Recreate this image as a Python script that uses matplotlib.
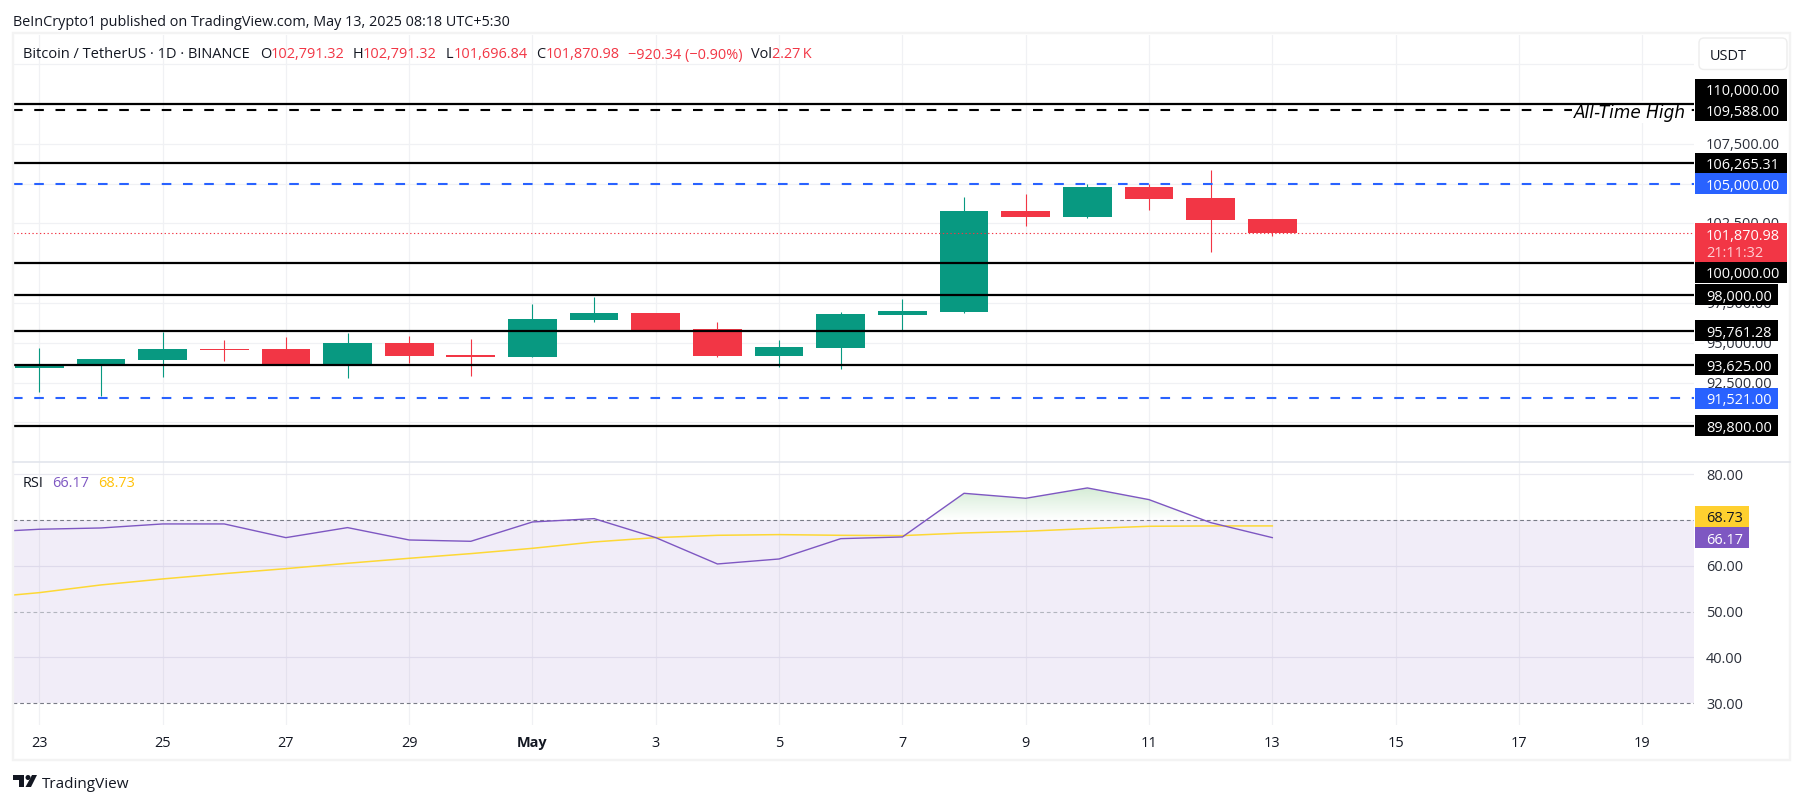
import matplotlib
matplotlib.use('Agg')
import matplotlib.pyplot as plt
import numpy as np
from matplotlib.patches import Circle, FancyBboxPatch, Polygon, Rectangle
from matplotlib.path import Path
from matplotlib.transforms import ScaledTranslation

plt.rcParams['font.family'] = ['Open Sans', 'DejaVu Sans']

WIDTH, HEIGHT = 1804, 804
UP = '#089981'
DOWN = '#F23645'
BLUE = '#2962FF'
PURPLE = '#7E57C2'
YELLOW = '#FDD835'
INK = '#131722'
GRID = '#F0F1F4'
NUM_SIZE = 10.45

# Apr 23 .. May 13, daily candles
opens = [93400, 93690, 93918, 94610, 94610, 93680, 94984, 94240, 94110, 96426, 96865,
         95862, 94169, 94671, 96740, 96928, 103260, 102884, 104765, 104075, 102791.32]
highs = [94671, 93990, 95693, 95172, 95361, 95611, 95423, 95235, 97429, 97868, 96900,
         96301, 95172, 96930, 97743, 104138, 104326, 104953, 104953, 105831, 102791.32]
lows = [91912, 91661, 92853, 93856, 93650, 92790, 93730, 92915, 94080, 96301, 95780,
        94100, 93480, 93354, 95800, 96870, 102320, 102820, 103323, 100690, 101696.84]
closes = [93690, 93981, 94608, 94550, 93680, 94984, 94169, 94110, 96489, 96865, 95799,
          94169, 94734, 96803, 96991, 103260, 102884, 104765, 104013, 102696, 101870.98]

# RSI starts one day earlier so that it runs off the left edge
rsi_values = [67.3, 68.0, 68.28, 69.16, 69.16, 66.17, 68.36, 65.66, 65.37, 69.59, 70.32,
              66.17, 60.42, 61.51, 65.95, 66.32, 75.85, 74.76, 77.02, 74.47, 69.45, 66.17]
rsi_ma = [52.93, 54.16, 55.84, 57.15, 58.31, 59.40, 60.57, 61.66, 62.68, 63.84, 65.23,
          66.17, 66.68, 66.83, 66.68, 66.61, 67.19, 67.56, 68.14, 68.65, 68.72, 68.73]

black_levels = [110000, 106265.31, 100000, 98000, 95761.28, 93625, 89800]
blue_levels = [105000, 91521]
ath_level = 109588
last_price = 101870.98

price_ticks = [112500, 110000, 107500, 105000, 102500, 100000, 97500, 95000, 92500, 90000, 87500]
rsi_ticks = [80, 60, 40]
rsi_labels = [80, 70, 60, 50, 40, 30]
date_ticks = [0, 2, 4, 6, 8, 10, 12, 14, 16, 18, 20, 22, 24, 26]
date_labels = ['23', '25', '27', '29', 'May', '3', '5', '7', '9', '11', '13', '15', '17', '19']


def axes_px(left, top, right, bottom):
    return fig.add_axes([left / WIDTH, 1 - bottom / HEIGHT, (right - left) / WIDTH, (bottom - top) / HEIGHT])


def style_pane(ax):
    for spine in ax.spines.values():
        spine.set_visible(False)
    ax.set_facecolor('none')
    ax.yaxis.tick_right()
    ax.tick_params(length=0, labelsize=NUM_SIZE, labelcolor='#2A2E39', pad=8.6)
    for d in date_ticks:
        ax.axvline(d, color=GRID, lw=0.9, zorder=0)


fig = plt.figure(figsize=(WIDTH / 100, HEIGHT / 100), dpi=100, facecolor='white')

# price pane
ax = axes_px(13, 35.5, 1694, 463.2)
style_pane(ax)
ax.set_xlim(-0.426, 26.84)
ax.set_ylim(87542, 114357)
ax.set_xticks([])
ax.set_yticks(price_ticks)
ax.set_yticklabels(['' if p in (112500, 87500) else f'{p:,.2f}' for p in price_ticks])
for p in price_ticks:
    ax.axhline(p, color=GRID, lw=0.9, zorder=0)
for label in ax.get_yticklabels():
    label.set_transform(label.get_transform() + ScaledTranslation(0, 1.5 / 100, fig.dpi_scale_trans))

days = np.arange(len(opens))
o, h, l, c = map(np.array, (opens, highs, lows, closes))
colors = [UP if b >= a else DOWN for a, b in zip(o, c)]
ax.vlines(days, l, h, colors=colors, lw=0.8, zorder=2)
ax.bar(days, np.abs(c - o), bottom=np.minimum(o, c), width=0.79, color=colors, zorder=3)

ax.axhline(last_price, color=DOWN, lw=0.8, ls=(0, (1.2, 2.2)), zorder=4)
ax.axhline(ath_level, color='black', lw=1.5, ls=(0, (4.6, 5.6)), zorder=4)
# the label masks the dashes but the solid 110,000 line runs over it
ax.text((1687 - 39.3) / 61.68, ath_level, 'All-Time High', style='italic', family='DejaVu Sans',
        fontsize=12.2, color='black', ha='right', va='center_baseline', zorder=4.5,
        bbox=dict(facecolor='white', edgecolor='none', pad=1.5))
for level in black_levels:
    ax.axhline(level, color='black', lw=1.6, zorder=5)
for level in blue_levels:
    ax.axhline(level, color=BLUE, lw=1.5, ls=(0, (4.6, 5.6)), zorder=5)

# RSI pane
ax_rsi = axes_px(13, 462.7, 1694, 726)
style_pane(ax_rsi)
ax_rsi.set_xlim(-0.426, 26.84)
ax_rsi.set_ylim(25.26, 82.75)
ax_rsi.set_yticks(rsi_labels)
ax_rsi.set_yticklabels([f'{v:.2f}' for v in rsi_labels])
ax_rsi.set_xticks(date_ticks)
ax_rsi.set_xticklabels(date_labels)
ax_rsi.tick_params(axis='x', labelcolor=INK, labelsize=NUM_SIZE, pad=7)
ax_rsi.get_xticklabels()[4].set_fontweight('bold')
for label in ax_rsi.get_yticklabels():
    label.set_transform(label.get_transform() + ScaledTranslation(0, 1.0 / 100, fig.dpi_scale_trans))
for v in rsi_ticks:
    ax_rsi.axhline(v, color='#E9E9F0', lw=0.9, zorder=0)
ax_rsi.axhspan(30, 70, color=PURPLE, alpha=0.1, lw=0, zorder=1)
for v, col in ((70, '#787B86'), (50, '#B2B5BE'), (30, '#787B86')):
    ax_rsi.axhline(v, color=col, lw=0.8, ls=(0, (3.4, 2.6)), zorder=2)

rsi_days = np.arange(-1, len(rsi_values) - 1)
rsi_arr = np.array(rsi_values)
# green glow above the 70 line, fading out downward
overbought = ax_rsi.fill_between(rsi_days, rsi_arr, 70, where=rsi_arr > 70, interpolate=True,
                                 color='none', lw=0, zorder=2)
glow = np.zeros((64, 2, 4))
glow[..., :3] = matplotlib.colors.to_rgb('#4CAF50')
glow[..., 3] = np.linspace(0.24, 0, 64)[:, None]
im = ax_rsi.imshow(glow, extent=(-0.426, 26.84, 70, rsi_arr.max()), aspect='auto', zorder=2,
                   interpolation='bilinear', origin='upper')
im.set_clip_path(Path.make_compound_path(*overbought.get_paths()), transform=ax_rsi.transData)
ax_rsi.set_xlim(-0.426, 26.84)
ax_rsi.set_ylim(25.26, 82.75)
ax_rsi.plot(rsi_days, rsi_ma, color=YELLOW, lw=1.1, zorder=3)
ax_rsi.plot(rsi_days, rsi_values, color=PURPLE, lw=1.0, zorder=4)

# everything around the panes lives in a pixel-coordinate overlay
ov = fig.add_axes([0, 0, 1, 1], zorder=10)
ov.set_xlim(0, WIDTH)
ov.set_ylim(HEIGHT, 0)
ov.axis('off')


def px_y(axis, value):
    return HEIGHT - axis.transData.transform((0, value))[1]


def tag(center, text, bg, fg, width, height=21):
    ov.add_patch(Rectangle((1695, center - height / 2), width, height, facecolor=bg, edgecolor='none'))
    ov.text(1706, center - 0.5, text, color=fg, fontsize=NUM_SIZE, va='center_baseline', ha='left')


def txt(x, y, s, color=INK, size=NUM_SIZE, **kw):
    ov.text(x, y, s, color=color, fontsize=size, va='center_baseline', ha='left', **kw)


ov.add_patch(Rectangle((12.5, 34), 1777.5, 727, fill=False, edgecolor='#F3F3F3', lw=1.7))
ov.plot([13, 1790], [462.7, 462.7], color='#E0E3EB', lw=1.1)

tag(px_y(ax, 110000) - 14.5, '110,000.00', 'black', 'white', 92)
tag(px_y(ax, 109588), '109,588.00', 'black', 'white', 92)
tag(px_y(ax, 106265.31), '106,265.31', 'black', 'white', 92)
tag(px_y(ax, 105000), '105,000.00', BLUE, 'white', 92)
tag(px_y(ax, 100000) + 9, '100,000.00', 'black', 'white', 92)
last_y = px_y(ax, last_price)
ov.add_patch(Rectangle((1695, last_y - 10.5), 92, 39.5, facecolor=DOWN, edgecolor='none'))
ov.text(1706, last_y, f'{last_price:,.2f}', color='white', fontsize=NUM_SIZE, va='center_baseline')
ov.text(1706, last_y + 17, '21:11:32', color='#FFD0D4', fontsize=NUM_SIZE, va='center_baseline')
for level, label in ((98000, '98,000.00'), (95761.28, '95,761.28'), (93625, '93,625.00'), (89800, '89,800.00')):
    tag(px_y(ax, level), label, 'black', 'white', 83)
tag(px_y(ax, 91521), '91,521.00', BLUE, 'white', 83)

tag(px_y(ax_rsi, 68.73) - 9.5, '68.73', '#FFD02F', INK, 54)
tag(px_y(ax_rsi, 66.17), '66.17', PURPLE, 'white', 54)

ov.add_patch(FancyBboxPatch((1699, 39), 88, 31.5, boxstyle='round,pad=0,rounding_size=5',
                            facecolor='white', edgecolor='#EDEDED', lw=1))
txt(1710, 55, 'USDT')

txt(13, 20, 'BeInCrypto1 published on TradingView.com, May 13, 2025 08:18 UTC+5:30', size=10.4)
txt(23, 53, 'Bitcoin / TetherUS \u00b7 1D \u00b7 BINANCE', size=10.5)
for x, s, col in ((260, 'O', INK), (271, '102,791.32', DOWN), (353, 'H', INK), (363, '102,791.32', DOWN),
                  (446, 'L', INK), (453.5, '101,696.84', DOWN), (536.5, 'C', INK), (546, '101,870.98', DOWN),
                  (628.5, '\u2212920.34 (\u22120.90%)', DOWN), (751, 'Vol', INK), (772, '2.27\u2009K', DOWN)):
    txt(x, 53, s, color=col)

txt(23, 481.7, 'RSI')
txt(52.5, 481.7, '66.17', color=PURPLE)
txt(98, 481.7, '68.73', color='#FFC107')

# TradingView logo
ov.add_patch(Polygon([(13, 776), (24, 776), (24, 788), (19, 788), (19, 781), (13, 781)], color=INK, lw=0))
ov.add_patch(Circle((28, 778.5), 2.5, color=INK, lw=0))
ov.add_patch(Polygon([(32, 776), (37, 776), (31, 788), (25.5, 788)], color=INK, lw=0))
txt(42, 782.7, 'TradingView', size=11)

fig.savefig('out.png', dpi=100)
